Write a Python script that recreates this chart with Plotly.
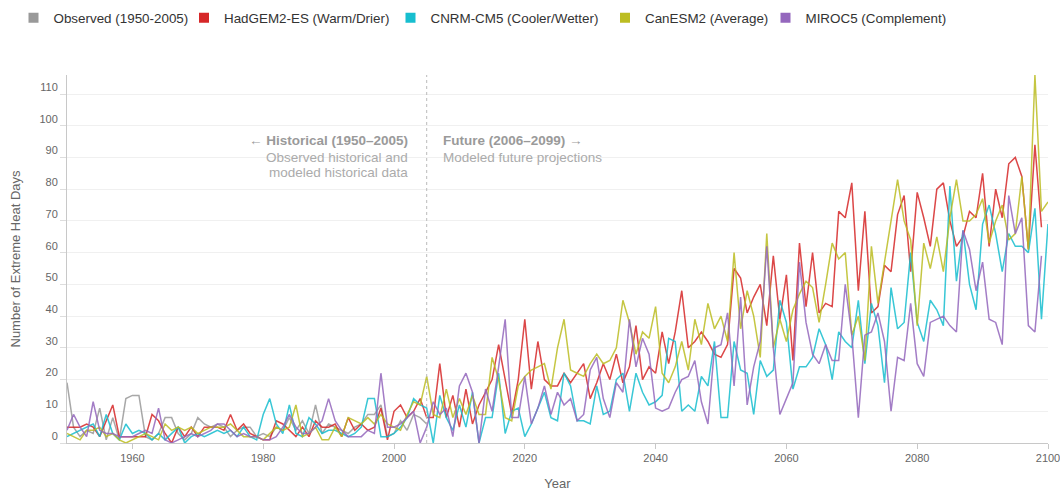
import plotly.graph_objects as go

ANOS = list(range(1950, 2101))

OBSERVADO = [
    19, 5, 2, 4, 3, 11, 1, 8, 1, 14,
    15, 15, 2, 1, 3, 8, 8, 3, 1, 3,
    8, 6, 5, 6, 5, 2, 4, 5, 5, 2,
    3, 2, 5, 4, 8, 4, 7, 3, 12, 3,
    6, 5, 4, 3, 5, 6, 9, 9, 12, 2,
    3, 7, 4, 9, 8, 6,
]

HADGEM = [
    5, 5, 5, 6, 5, 2, 7, 12, 2, 2,
    2, 2, 2, 9, 7, 3, 0, 5, 2, 5,
    2, 5, 5, 5, 4, 9, 4, 6, 3, 2,
    1, 1, 7, 6, 4, 2, 5, 2, 7, 5,
    5, 6, 2, 8, 4, 6, 4, 5, 11, 1,
    10, 12, 8, 10, 14, 8, 8, 25, 8, 15,
    5, 17, 6, 12, 16, 20, 31, 20, 9, 20,
    39, 17, 32, 20, 18, 18, 22, 19, 22, 25,
    14, 19, 25, 20, 28, 19, 24, 37, 20, 24,
    22, 35, 25, 35, 48, 30, 32, 35, 32, 28,
    27, 31, 55, 52, 41, 46, 50, 37, 59, 39,
    53, 26, 63, 43, 60, 41, 44, 43, 73, 71,
    82, 48, 73, 41, 43, 56, 54, 72, 78, 54,
    79, 71, 62, 80, 82, 70, 62, 65, 73, 71,
    85, 62, 80, 71, 88, 90, 84, 61, 94, 68,
]

CNRM = [
    2, 3, 4, 5, 6, 2, 9, 3, 1, 6,
    3, 4, 3, 1, 3, 1, 3, 5, 0, 2,
    3, 2, 3, 4, 3, 4, 2, 5, 2, 1,
    9, 14, 6, 3, 12, 3, 2, 8, 6, 3,
    4, 4, 3, 2, 3, 5, 14, 14, 2, 2,
    3, 5, 8, 14, 12, 11, 0, 15, 8, 4,
    12, 5, 16, 0, 8, 8, 22, 3, 10, 11,
    2, 6, 11, 16, 8, 7, 22, 18, 7, 7,
    6, 18, 9, 10, 20, 22, 10, 22, 16, 12,
    13, 15, 33, 32, 10, 12, 10, 21, 18, 32,
    8, 8, 32, 23, 22, 9, 26, 21, 23, 45,
    38, 17, 24, 24, 27, 36, 31, 20, 35, 32,
    30, 45, 25, 44, 37, 19, 49, 36, 38, 60,
    38, 32, 45, 42, 37, 81, 51, 67, 50, 42,
    69, 75, 66, 54, 66, 62, 62, 60, 74, 39,
    69,
]

CANESM = [
    3, 2, 1, 4, 4, 5, 2, 3, 1, 0,
    1, 2, 3, 2, 1, 6, 4, 5, 4, 5,
    3, 4, 5, 5, 5, 6, 4, 2, 2, 2,
    1, 3, 5, 4, 5, 12, 2, 3, 5, 1,
    1, 5, 2, 8, 7, 6, 8, 6, 9, 6,
    5, 4, 9, 13, 12, 21, 9, 8, 17, 8,
    14, 9, 15, 9, 9, 27, 20, 8, 7, 18,
    21, 23, 24, 25, 17, 30, 39, 23, 22, 21,
    25, 28, 25, 26, 30, 45, 38, 28, 35, 33,
    43, 22, 19, 24, 32, 23, 39, 31, 44, 36,
    40, 32, 60, 36, 48, 40, 27, 66, 30, 39,
    32, 42, 47, 51, 49, 38, 50, 63, 58, 60,
    34, 40, 26, 62, 44, 57, 70, 83, 70, 64,
    37, 63, 55, 65, 54, 71, 83, 70, 70, 72,
    77, 63, 70, 75, 64, 66, 84, 61, 116, 73,
    76,
]

MIROC = [
    4, 9, 5, 2, 13, 4, 3, 3, 2, 2,
    2, 3, 4, 3, 11, 1, 0, 1, 2, 3,
    2, 3, 4, 6, 6, 4, 2, 3, 2, 2,
    1, 1, 2, 5, 9, 5, 3, 3, 5, 7,
    14, 7, 4, 2, 2, 2, 4, 3, 22, 5,
    5, 6, 8, 10, 0, 5, 13, 9, 11, 2,
    18, 22, 16, 0, 17, 10, 24, 39, 8, 8,
    21, 6, 11, 18, 9, 16, 12, 14, 7, 9,
    23, 27, 14, 8, 19, 16, 39, 24, 33, 28,
    11, 10, 11, 16, 20, 21, 26, 13, 6, 30,
    31, 41, 18, 46, 12, 24, 32, 62, 30, 9,
    14, 19, 57, 38, 28, 25, 31, 26, 26, 50,
    34, 8, 34, 35, 41, 32, 10, 27, 26, 44,
    25, 21, 38, 39, 40, 37, 35, 67, 61, 48,
    57, 39, 38, 31, 78, 66, 71, 37, 35, 59,
]

SERIES = [
    ("Observed (1950-2005)", OBSERVADO, "#999999"),
    ("HadGEM2-ES (Warm/Drier)", HADGEM, "#d62728"),
    ("CNRM-CM5 (Cooler/Wetter)", CNRM, "#17becf"),
    ("CanESM2 (Average)", CANESM, "#bcbd22"),
    ("MIROC5 (Complement)", MIROC, "#9467bd"),
]

# posicao (px) de cada item da legenda no topo
LEGENDA_X = [13.5, 184, 390.5, 605, 765.5]

TEXTO = "#333333"
CINZA_EIXO = "#666666"

fig = go.Figure()

for nome, valores, cor in SERIES:
    fig.add_trace(go.Scatter(
        x=ANOS[:len(valores)],
        y=valores,
        mode="lines",
        name=nome,
        line=dict(color=cor, width=1.5),
        opacity=0.85,
        showlegend=False,
        hovertemplate="%{x}: %{y}<extra>" + nome + "</extra>",
    ))

# legenda com quadrados, um item por legenda para controlar a posicao
legendas = {}
for i, (nome, valores, cor) in enumerate(SERIES):
    chave = "legend" if i == 0 else f"legend{i + 1}"
    fig.add_trace(go.Scatter(
        x=[None],
        y=[None],
        mode="markers",
        name=nome,
        legend=chave,
        marker=dict(symbol="square", size=10, color=cor),
    ))
    legendas[chave] = dict(
        orientation="h",
        xref="container", yref="container",
        x=LEGENDA_X[i] / 1060, y=0.995,
        xanchor="left", yanchor="top",
        font=dict(size=13.4, color=TEXTO),
        bgcolor="rgba(0,0,0,0)",
    )

fig.add_vline(x=2005, line=dict(color="#bbbbbb", width=1, dash="dot"))

anotacoes = [
    ("<b>← Historical (1950–2005)</b>", -17, "right", 0.8212, "#9a9a9a"),
    ("Observed historical and", -17, "right", 0.7746, "#ababab"),
    ("modeled historical data", -17, "right", 0.7341, "#ababab"),
    ("<b>Future (2006–2099) →</b>", 14, "left", 0.8212, "#9a9a9a"),
    ("Modeled future projections", 14, "left", 0.7746, "#ababab"),
]
for texto, desloc, ancora, y, cor in anotacoes:
    fig.add_annotation(
        text=texto, x=2005, xref="x", xshift=desloc,
        xanchor=ancora, y=y, yref="paper", yanchor="middle",
        showarrow=False, font=dict(size=13.5, color=cor),
    )

fig.update_layout(
    width=1060,
    height=491,
    template="plotly_white",
    paper_bgcolor="#ffffff",
    plot_bgcolor="#ffffff",
    font=dict(family="Arial, Liberation Sans, sans-serif", size=12, color=TEXTO),
    margin=dict(l=67, r=12, t=75, b=48),
    hovermode="closest",
    **legendas,
)

fig.update_xaxes(
    range=[1950, 2100],
    tickvals=list(range(1960, 2101, 20)),
    automargin=False,
    ticklabeloverflow="allow",
    showgrid=False,
    zeroline=False,
    showline=True,
    linecolor="#c8c8c8",
    ticks="outside",
    ticklen=5,
    tickcolor="#c8c8c8",
    tickfont=dict(size=11, color=CINZA_EIXO),
    title=dict(text="Year", font=dict(size=13, color=CINZA_EIXO), standoff=20),
)

fig.update_yaxes(
    range=[0, 116],
    tickvals=list(range(0, 111, 10)),
    automargin=False,
    showgrid=True,
    gridcolor="#f0f0f0",
    zeroline=False,
    showline=True,
    linecolor="#c8c8c8",
    ticks="outside",
    ticklen=6,
    tickcolor="#dddddd",
    tickfont=dict(size=11, color=CINZA_EIXO),
    ticklabelshift=-7,
    title=dict(text="Number of Extreme Heat Days", font=dict(size=13, color=CINZA_EIXO), standoff=15),
)

fig.write_html(
    "out.html",
    config={"displayModeBar": False},
    post_script="document.body.style.margin='0'; document.body.style.overflow='hidden';",
)
